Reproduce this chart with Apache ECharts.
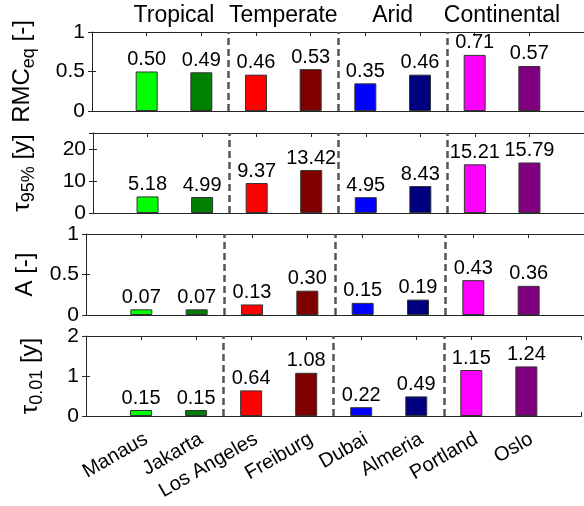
<!DOCTYPE html>
<html><head><meta charset="utf-8">
<script src="https://cdn.jsdelivr.net/npm/echarts@6/dist/echarts.min.js"></script>
<style>html,body{margin:0;padding:0;background:#fff}#c{width:584px;height:506px}</style>
</head><body><div id="c"></div>
<script>
const cities = ['Manaus','Jakarta','Los Angeles','Freiburg','Dubai','Almeria','Portland','Oslo'];
const groups = ['Tropical','Temperate','Arid','Continental'];
const groupCenters = [1.5, 3.5, 5.5, 7.5];
const dividers = [2.5, 4.5, 6.5];
const rmcEq = [0.50, 0.49, 0.46, 0.53, 0.35, 0.46, 0.71, 0.57];
const tau95 = [5.18, 4.99, 9.37, 13.42, 4.95, 8.43, 15.21, 15.79];
const ampA = [0.07, 0.07, 0.13, 0.30, 0.15, 0.19, 0.43, 0.36];
const tau001 = [0.15, 0.15, 0.64, 1.08, 0.22, 0.49, 1.15, 1.24];
const yMax = [1, 25, 1, 2];
const yInterval = [0.5, 10, 0.5, 1];
const yTickLabels = [['0','0.5','1'],['0','10','20'],['0','0.5','1'],['0','1','2']];

const colors = ['#00ff00','#008000','#ff0000','#800000','#0000ff','#000080','#ff00ff','#800080'];
const FONT = 'Liberation Sans, Arial, sans-serif';
const panels = [rmcEq, tau95, ampA, tau001];
const gridTops = [32, 133, 234, 336];
const gridHeights = [79, 80, 81, 80];
const nameGaps = [54, 55, 45, 40];
const names = [
  '{m|RMC}{s|eq}{m| [-]}',
  '{m|\u03c4}{s|95%}{m| [y]}',
  '{m|A [-]}',
  '{m|\u03c4}{s|0.01}{m| [y]}'
];
const nameRich = {
  m:{fontSize:24, fontFamily:FONT, color:'#000', lineHeight:28, verticalAlign:'top'},
  s:{fontSize:18, fontFamily:FONT, color:'#000', lineHeight:28, verticalAlign:'bottom', padding:[12,0,0,0]}
};
const axisColor = '#262626';

const grid = [], xAxis = [], yAxis = [], series = [];
panels.forEach((vals, p) => {
  grid.push({left:86, width:499, top:gridTops[p], height:gridHeights[p]});
  xAxis.push({type:'value', gridIndex:p, min:0, max:9, interval:1, position:'bottom',
    axisLine:{show:true, onZero:false, lineStyle:{color:axisColor, width:1}},
    axisTick:{show:true, inside:true, length:4, lineStyle:{color:axisColor}},
    splitLine:{show:false},
    axisLabel:{show:p===3, rotate:30, margin:13, verticalAlign:'top', fontSize:20, fontFamily:FONT, color:'#000',
      formatter:v => (v>=1 && v<=cities.length) ? cities[v-1] : ''}
  });
  xAxis.push({type:'value', gridIndex:p, min:0, max:9, interval:1, position:'top',
    axisLine:{show:true, onZero:false, lineStyle:{color:axisColor, width:1}},
    axisTick:{show:true, inside:true, length:4, lineStyle:{color:axisColor}},
    splitLine:{show:false}, axisLabel:{show:false}
  });
  yAxis.push({type:'value', gridIndex:p, min:0, max:yMax[p], interval:yInterval[p], position:'left',
    name:names[p], nameLocation:'middle', nameRotate:90, nameGap:nameGaps[p],
    nameTextStyle:{rich:nameRich},
    axisLine:{show:true, lineStyle:{color:axisColor, width:1}},
    axisTick:{show:true, inside:true, length:4, lineStyle:{color:axisColor}},
    splitLine:{show:false},
    axisLabel:{fontSize:21, fontFamily:FONT, color:'#000', margin:7, showMaxLabel:yMax[p]%yInterval[p]===0,
      formatter:v => { const i = Math.round(v/yInterval[p]); return yTickLabels[p][i] !== undefined ? yTickLabels[p][i] : ''; }}
  });
  yAxis.push({type:'value', gridIndex:p, min:0, max:yMax[p], interval:yInterval[p], position:'right',
    axisLine:{show:false},
    axisTick:{show:true, inside:true, length:4, lineStyle:{color:axisColor}},
    splitLine:{show:false}, axisLabel:{show:false}
  });
  series.push({type:'bar', xAxisIndex:2*p, yAxisIndex:2*p, barWidth:22,
    data: vals.map((v,i) => ({value:[i+1, v], itemStyle:{color:colors[i]}})),
    itemStyle:{borderColor:'#333', borderWidth:1},
    label:{show:true, position:'top', distance:2, fontSize:20, fontFamily:FONT, color:'#000',
      formatter:d => d.value[1].toFixed(2)},
    markLine:{silent:true, symbol:'none', label:{show:false},
      lineStyle:{type:[7,4], color:'#555', width:2.5},
      data: dividers.map(d => ({xAxis:d}))},
    animation:false
  });
});

const chart = echarts.init(document.getElementById('c'), null, {renderer:'canvas'});
chart.setOption({animation:false, grid, xAxis, yAxis, series});
const graphic = groups.map((g,i) => ({
  type:'text', x: chart.convertToPixel({xAxisIndex:0}, groupCenters[i]), y:16,
  style:{text:g, fontSize:23, fontFamily:FONT, fill:'#000', align:'center', verticalAlign:'middle'}
}));
chart.setOption({graphic});
</script></body></html>
